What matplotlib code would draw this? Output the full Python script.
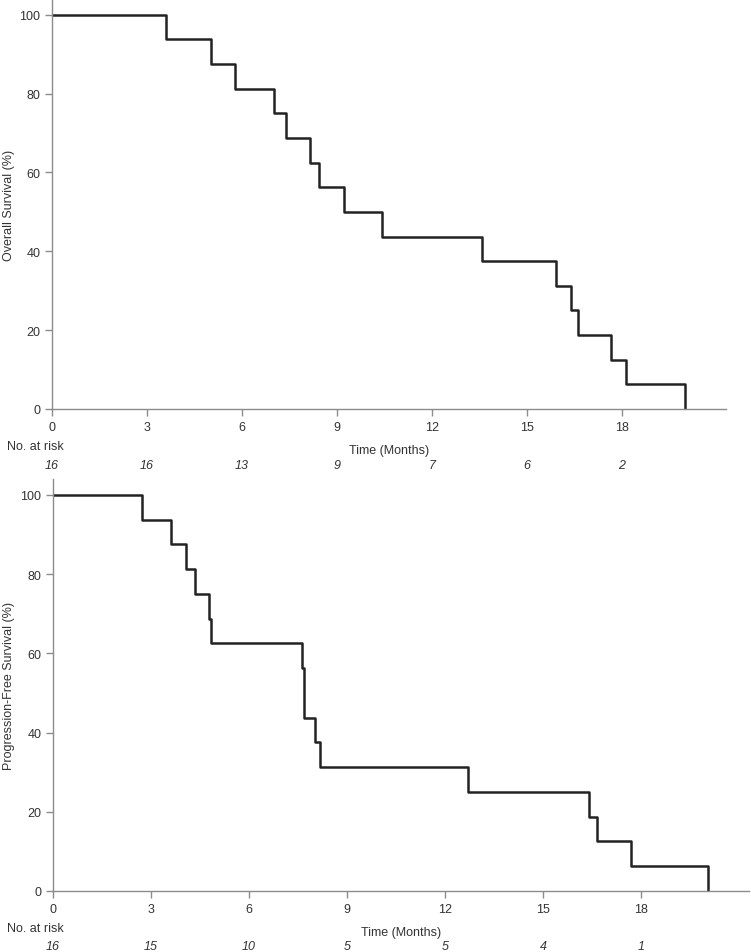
import matplotlib.pyplot as plt
import numpy as np

plt.rcParams['font.family'] = ['Liberation Sans', 'DejaVu Sans']

# Overall survival: event times (months) and survival (%) after each event
os_times = [0, 3.59, 5.03, 5.78, 7.02, 7.40, 8.15, 8.43, 9.23, 10.44, 13.60,
            15.94, 16.39, 16.62, 17.68, 18.14, 20.02]
os_surv = [100, 93.75, 87.5, 81.25, 75.0, 68.75, 62.5, 56.25, 50.0, 43.75, 37.5,
           31.25, 25.0, 18.75, 12.5, 6.25, 0]
os_risk = [16, 16, 13, 9, 7, 6, 2]

# Progression-free survival
pfs_times = [0, 2.73, 3.62, 4.08, 4.34, 4.77, 4.83, 7.61, 7.67, 8.03, 8.16,
             12.69, 16.41, 16.64, 17.70, 20.03]
pfs_surv = [100, 93.75, 87.5, 81.25, 75.0, 68.75, 62.5, 56.25, 43.75, 37.5, 31.25,
            25.0, 18.75, 12.5, 6.25, 0]
pfs_risk = [16, 15, 10, 5, 5, 4, 1]

xticks = [0, 3, 6, 9, 12, 15, 18]
yticks = [0, 20, 40, 60, 80, 100]

W, H = 751, 953
fig = plt.figure(figsize=(W / 100, H / 100), dpi=100)

grey = '#8c8c8c'
txt = '#333333'
fs = 9


def km_panel(rect, times, surv, risk, ylabel, risk_y, lab_y):
    ax = fig.add_axes(rect)
    ax.step(times, surv, where='post', color='#222222', lw=1.8)
    ax.set_xlim(0, 21.3)
    ax.set_ylim(0, 104)
    ax.set_xticks(xticks)
    ax.set_yticks(yticks)
    for s in ['top', 'right']:
        ax.spines[s].set_visible(False)
    for s in ['left', 'bottom']:
        ax.spines[s].set_color(grey)
        ax.spines[s].set_linewidth(1.0)
    ax.tick_params(colors=grey, labelcolor=txt, labelsize=fs, length=5, width=1)
    ax.set_ylabel(ylabel, fontsize=fs, color=txt)
    # put the y label near the left edge of the figure
    w_px = rect[2] * W
    ax.yaxis.set_label_coords(-(rect[0] * W - 15) / w_px, 0.5)
    ax.set_xlabel('Time (Months)', fontsize=fs, color=txt, labelpad=8)
    # number at risk table
    fig.text(7 / W, 1 - lab_y / H, 'No. at risk', fontsize=fs, color=txt,
             ha='left', va='center')
    for t, n in zip(xticks, risk):
        x_fig = fig.transFigure.inverted().transform(ax.transData.transform((t, 0)))[0]
        fig.text(x_fig, 1 - risk_y / H, str(n), fontsize=fs, color=txt,
                 style='italic', ha='center', va='center')
    return ax


ax1 = km_panel([52 / W, 1 - 410 / H, (726 - 52) / W, 410 / H],
               os_times, os_surv, os_risk, 'Overall Survival (%)', 466, 447)
ax2 = km_panel([53 / W, 1 - 892 / H, (749 - 53) / W, (892 - 480) / H],
               pfs_times, pfs_surv, pfs_risk, 'Progression-Free Survival (%)', 947, 929)

fig.savefig('out.png', dpi=100)
